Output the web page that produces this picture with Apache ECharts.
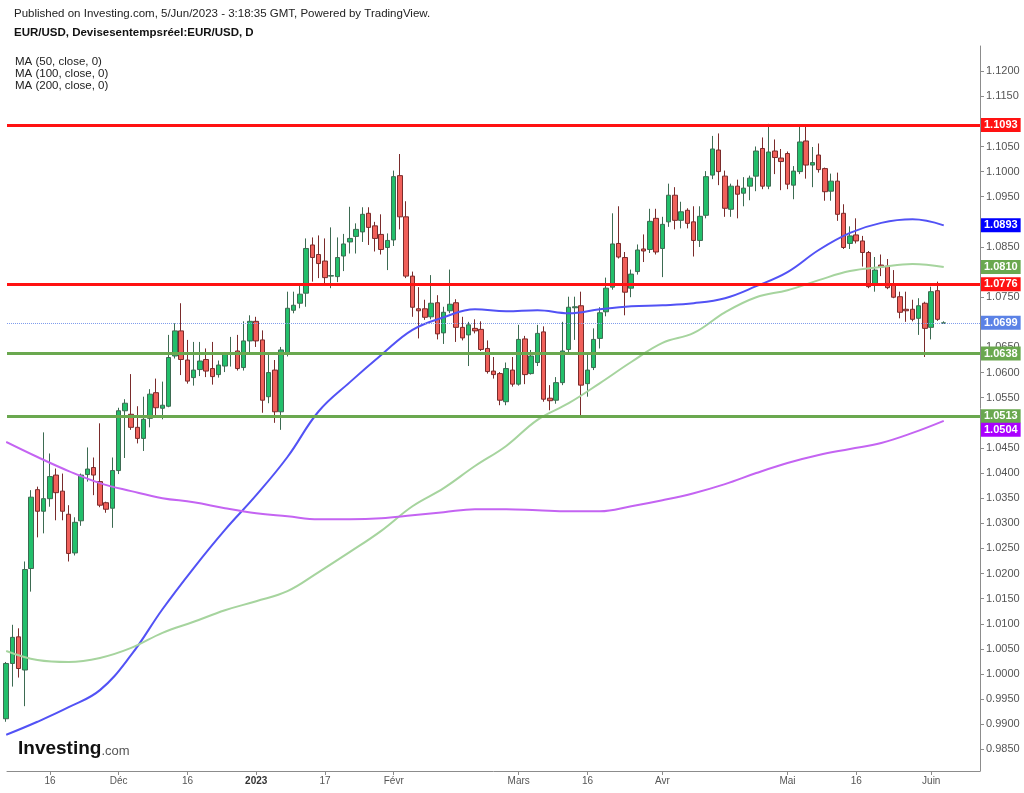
<!DOCTYPE html>
<html>
<head>
<meta charset="utf-8">
<title>EUR/USD</title>
<script src="https://cdn.jsdelivr.net/npm/echarts@6.0.0/dist/echarts.min.js"></script>
<style>
  html, body { margin: 0; padding: 0; background: #fff; }
  #chart { width: 1024px; height: 793px; }
</style>
</head>
<body>
<div id="chart"></div>
<script>
// séances quotidiennes EUR/USD, 7 nov. 2022 -> 5 juin 2023
var dates = [
  '2022-11-07','2022-11-08','2022-11-09','2022-11-10','2022-11-11','2022-11-14','2022-11-15','2022-11-16','2022-11-17','2022-11-18',
  '2022-11-21','2022-11-22','2022-11-23','2022-11-24','2022-11-25','2022-11-28','2022-11-29','2022-11-30','2022-12-01','2022-12-02',
  '2022-12-05','2022-12-06','2022-12-07','2022-12-08','2022-12-09','2022-12-12','2022-12-13','2022-12-14','2022-12-15','2022-12-16',
  '2022-12-19','2022-12-20','2022-12-21','2022-12-22','2022-12-23','2022-12-26','2022-12-27','2022-12-28','2022-12-29','2022-12-30',
  '2023-01-02','2023-01-03','2023-01-04','2023-01-05','2023-01-06','2023-01-09','2023-01-10','2023-01-11','2023-01-12','2023-01-13',
  '2023-01-16','2023-01-17','2023-01-18','2023-01-19','2023-01-20','2023-01-23','2023-01-24','2023-01-25','2023-01-26','2023-01-27',
  '2023-01-30','2023-01-31','2023-02-01','2023-02-02','2023-02-03','2023-02-06','2023-02-07','2023-02-08','2023-02-09','2023-02-10',
  '2023-02-13','2023-02-14','2023-02-15','2023-02-16','2023-02-17','2023-02-20','2023-02-21','2023-02-22','2023-02-23','2023-02-24',
  '2023-02-27','2023-02-28','2023-03-01','2023-03-02','2023-03-03','2023-03-06','2023-03-07','2023-03-08','2023-03-09','2023-03-10',
  '2023-03-13','2023-03-14','2023-03-15','2023-03-16','2023-03-17','2023-03-20','2023-03-21','2023-03-22','2023-03-23','2023-03-24',
  '2023-03-27','2023-03-28','2023-03-29','2023-03-30','2023-03-31','2023-04-03','2023-04-04','2023-04-05','2023-04-06','2023-04-07',
  '2023-04-10','2023-04-11','2023-04-12','2023-04-13','2023-04-14','2023-04-17','2023-04-18','2023-04-19','2023-04-20','2023-04-21',
  '2023-04-24','2023-04-25','2023-04-26','2023-04-27','2023-04-28','2023-05-01','2023-05-02','2023-05-03','2023-05-04','2023-05-05',
  '2023-05-08','2023-05-09','2023-05-10','2023-05-11','2023-05-12','2023-05-15','2023-05-16','2023-05-17','2023-05-18','2023-05-19',
  '2023-05-22','2023-05-23','2023-05-24','2023-05-25','2023-05-26','2023-05-29','2023-05-30','2023-05-31','2023-06-01','2023-06-02',
  '2023-06-05'
];

var open = [
  0.9911, 1.0021, 1.0074, 1.0008, 1.0210, 1.0367, 1.0324, 1.0349, 1.0396, 1.0364,
  1.0318, 1.0241, 1.0305, 1.0397, 1.0411, 1.0383, 1.0341, 1.0330, 1.0405, 1.0524,
  1.0517, 1.0491, 1.0469, 1.0509, 1.0560, 1.0529, 1.0533, 1.0633, 1.0683, 1.0625,
  1.0590, 1.0606, 1.0626, 1.0608, 1.0596, 1.0613, 1.0637, 1.0643, 1.0610, 1.0663,
  1.0702, 1.0665, 1.0552, 1.0605, 1.0522, 1.0638, 1.0724, 1.0738, 1.0758, 1.0854,
  1.0835, 1.0822, 1.0792, 1.0791, 1.0832, 1.0860, 1.0871, 1.0880, 1.0917, 1.0892,
  1.0875, 1.0849, 1.0864, 1.0992, 1.0910, 1.0792, 1.0727, 1.0727, 1.0711, 1.0739,
  1.0679, 1.0723, 1.0739, 1.0690, 1.0675, 1.0688, 1.0686, 1.0648, 1.0603, 1.0598,
  1.0542, 1.0605, 1.0577, 1.0667, 1.0598, 1.0620, 1.0681, 1.0549, 1.0545, 1.0580,
  1.0646, 1.0729, 1.0733, 1.0578, 1.0610, 1.0668, 1.0721, 1.0770, 1.0857, 1.0829,
  1.0768, 1.0801, 1.0846, 1.0845, 1.0907, 1.0847, 1.0900, 1.0953, 1.0903, 1.0923,
  1.0900, 1.0863, 1.0913, 1.0993, 1.1043, 1.0991, 1.0925, 1.0971, 1.0957, 1.0971,
  1.0991, 1.1046, 1.0971, 1.1041, 1.1027, 1.1036, 1.0973, 1.1000, 1.1061, 1.1013,
  1.1033, 1.1006, 1.0961, 1.0981, 1.0917, 1.0857, 1.0874, 1.0862, 1.0839, 1.0774,
  1.0814, 1.0812, 1.0776, 1.0751, 1.0726, 1.0726, 1.0708, 1.0738, 1.0690, 1.0763,
  1.0698
];
var close = [
  1.0021, 1.0073, 1.0011, 1.0208, 1.0352, 1.0324, 1.0349, 1.0393, 1.0361, 1.0324,
  1.0240, 1.0302, 1.0396, 1.0408, 1.0396, 1.0336, 1.0328, 1.0405, 1.0524, 1.0539,
  1.0491, 1.0469, 1.0507, 1.0557, 1.0530, 1.0535, 1.0630, 1.0683, 1.0626, 1.0583,
  1.0605, 1.0623, 1.0603, 1.0592, 1.0615, 1.0637, 1.0639, 1.0608, 1.0663, 1.0702,
  1.0663, 1.0545, 1.0600, 1.0522, 1.0645, 1.0728, 1.0734, 1.0756, 1.0847, 1.0829,
  1.0817, 1.0789, 1.0793, 1.0829, 1.0856, 1.0867, 1.0885, 1.0915, 1.0889, 1.0867,
  1.0845, 1.0863, 1.0990, 1.0910, 1.0792, 1.0730, 1.0723, 1.0710, 1.0738, 1.0677,
  1.0720, 1.0736, 1.0690, 1.0669, 1.0695, 1.0683, 1.0646, 1.0602, 1.0596, 1.0545,
  1.0608, 1.0577, 1.0666, 1.0596, 1.0633, 1.0678, 1.0547, 1.0544, 1.0580, 1.0643,
  1.0730, 1.0731, 1.0575, 1.0605, 1.0666, 1.0719, 1.0768, 1.0856, 1.0830, 1.0760,
  1.0796, 1.0844, 1.0842, 1.0901, 1.0840, 1.0895, 1.0953, 1.0903, 1.0920, 1.0897,
  1.0863, 1.0911, 1.0990, 1.1045, 1.1000, 1.0927, 1.0971, 1.0955, 1.0967, 1.0987,
  1.1041, 1.0971, 1.1039, 1.1028, 1.1020, 1.0975, 1.1001, 1.1059, 1.1013, 1.1018,
  1.1004, 1.0960, 1.0981, 1.0915, 1.0849, 1.0872, 1.0862, 1.0839, 1.0771, 1.0804,
  1.0810, 1.0769, 1.0750, 1.0720, 1.0723, 1.0706, 1.0733, 1.0688, 1.0761, 1.0706,
  1.0699
];
var low = [
  0.9905, 0.9975, 0.9993, 0.9936, 1.0164, 1.0272, 1.0280, 1.0333, 1.0306, 1.0306,
  1.0224, 1.0236, 1.0295, 1.0383, 1.0356, 1.0332, 1.0321, 1.0291, 1.0398, 1.0430,
  1.0486, 1.0459, 1.0444, 1.0491, 1.0512, 1.0507, 1.0531, 1.0628, 1.0595, 1.0578,
  1.0574, 1.0593, 1.0591, 1.0576, 1.0590, 1.0601, 1.0612, 1.0604, 1.0604, 1.0638,
  1.0651, 1.0520, 1.0539, 1.0500, 1.0486, 1.0632, 1.0718, 1.0728, 1.0731, 1.0781,
  1.0788, 1.0777, 1.0768, 1.0780, 1.0802, 1.0837, 1.0837, 1.0860, 1.0854, 1.0841,
  1.0835, 1.0804, 1.0852, 1.0885, 1.0788, 1.0711, 1.0668, 1.0705, 1.0706, 1.0666,
  1.0657, 1.0718, 1.0661, 1.0664, 1.0613, 1.0678, 1.0643, 1.0598, 1.0588, 1.0535,
  1.0535, 1.0572, 1.0574, 1.0577, 1.0596, 1.0613, 1.0542, 1.0525, 1.0538, 1.0575,
  1.0641, 1.0665, 1.0515, 1.0552, 1.0605, 1.0648, 1.0712, 1.0765, 1.0827, 1.0714,
  1.0750, 1.0795, 1.0820, 1.0838, 1.0835, 1.0790, 1.0890, 1.0885, 1.0887, 1.0887,
  1.0831, 1.0850, 1.0907, 1.0985, 1.0973, 1.0910, 1.0910, 1.0907, 1.0931, 1.0943,
  1.0961, 1.0965, 1.0965, 1.0995, 1.0963, 1.0965, 1.0945, 1.0995, 1.0986, 1.0969,
  1.0998, 1.0942, 1.0942, 1.0902, 1.0846, 1.0846, 1.0857, 1.0811, 1.0768, 1.0761,
  1.0792, 1.0766, 1.0748, 1.0708, 1.0701, 1.0702, 1.0675, 1.0631, 1.0666, 1.0703,
  1.0697
];
var high = [
  1.0024, 1.0098, 1.0091, 1.0224, 1.0366, 1.0373, 1.0481, 1.0439, 1.0409, 1.0399,
  1.0336, 1.0312, 1.0399, 1.0451, 1.0431, 1.0499, 1.0343, 1.0431, 1.0530, 1.0547,
  1.0597, 1.0533, 1.0552, 1.0567, 1.0588, 1.0582, 1.0675, 1.0698, 1.0738, 1.0665,
  1.0661, 1.0661, 1.0648, 1.0661, 1.0624, 1.0641, 1.0671, 1.0675, 1.0702, 1.0714,
  1.0711, 1.0684, 1.0638, 1.0625, 1.0651, 1.0761, 1.0761, 1.0777, 1.0867, 1.0869,
  1.0873, 1.0867, 1.0889, 1.0869, 1.0876, 1.0930, 1.0897, 1.0929, 1.0929, 1.0900,
  1.0915, 1.0877, 1.1002, 1.1035, 1.0941, 1.0801, 1.0770, 1.0745, 1.0794, 1.0754,
  1.0731, 1.0805, 1.0746, 1.0711, 1.0701, 1.0706, 1.0702, 1.0664, 1.0631, 1.0601,
  1.0620, 1.0631, 1.0695, 1.0673, 1.0645, 1.0695, 1.0692, 1.0575, 1.0591, 1.0701,
  1.0751, 1.0751, 1.0761, 1.0638, 1.0688, 1.0730, 1.0789, 1.0917, 1.0931, 1.0840,
  1.0805, 1.0855, 1.0875, 1.0926, 1.0926, 1.0910, 1.0976, 1.0969, 1.0940, 1.0927,
  1.0931, 1.0931, 1.1001, 1.1071, 1.1076, 1.1002, 1.0976, 1.0984, 1.0989, 1.0992,
  1.1050, 1.1068, 1.1095, 1.1064, 1.1045, 1.1040, 1.1011, 1.1093, 1.1093, 1.1049,
  1.1056, 1.1008, 1.0996, 1.0998, 1.0935, 1.0891, 1.0907, 1.0872, 1.0842, 1.0830,
  1.0835, 1.0826, 1.0804, 1.0761, 1.0761, 1.0745, 1.0748, 1.0741, 1.0771, 1.0781,
  1.0702
];

// moyennes mobiles, une valeur toutes les 5 séances
var maIdx = [0, 5, 10, 15, 20, 25, 30, 35, 40, 45, 50, 55, 60, 65, 70, 75, 80, 85, 90, 95,
  100, 105, 110, 115, 120, 125, 130, 135, 140, 145, 150];
var ma50 = [0.9879, 0.9905, 0.9934, 0.9968, 1.0038, 1.0129, 1.0211, 1.0287, 1.0356, 1.0432,
  1.0523, 1.0581, 1.0635, 1.0685, 1.0710, 1.0726, 1.0722, 1.0724, 1.0718, 1.0726,
  1.0732, 1.0734, 1.0738, 1.0748, 1.0772, 1.0800, 1.0844, 1.0878, 1.0898, 1.0905, 1.0893];
var ma100 = [1.0046, 1.0028, 1.0024, 1.0032, 1.0052, 1.0082, 1.0104, 1.0127, 1.0145, 1.0165,
  1.0203, 1.0243, 1.0285, 1.0334, 1.0370, 1.0414, 1.0454, 1.0506, 1.0539, 1.0579,
  1.0621, 1.0659, 1.0679, 1.0720, 1.0750, 1.0764, 1.0784, 1.0802, 1.0810, 1.0816, 1.0810];
var ma200 = [1.0462, 1.0432, 1.0404, 1.0380, 1.0364, 1.0350, 1.0342, 1.0330, 1.0320, 1.0314,
  1.0308, 1.0308, 1.0310, 1.0316, 1.0322, 1.0328, 1.0328, 1.0326, 1.0324, 1.0324,
  1.0334, 1.0346, 1.0360, 1.0378, 1.0400, 1.0420, 1.0436, 1.0448, 1.0460, 1.0480, 1.0504];

// supports / résistances tracés à la main
var resistances = [1.1093, 1.0776];
var supports = [1.0638, 1.0513];
var lastPrice = 1.0699;

// graduations
var xLabelIdx = [7, 18, 29, 40, 51, 62, 82, 93, 105, 125, 136, 148];
var xLabels = ['16', 'Déc', '16', '2023', '17', 'Févr', 'Mars', '16', 'Avr', 'Mai', '16', 'Juin'];
var yTicks = [0.985, 0.990, 0.995, 1.000, 1.005, 1.010, 1.015, 1.020, 1.025, 1.030,
  1.035, 1.040, 1.045, 1.050, 1.055, 1.060, 1.065, 1.070, 1.075, 1.080,
  1.085, 1.090, 1.095, 1.100, 1.105, 1.110, 1.115, 1.120];

var FONT = 'Liberation Sans, Arial, sans-serif';
var RED = '#ff1212';
var GREEN = '#6aa84f';
var HIDDEN = { color: 'rgba(0,0,0,0)', width: 1 };

var candles = dates.map(function (d, i) {
    return [i, open[i], close[i], low[i], high[i]];
});

function maPoints(values) {
    return maIdx.map(function (x, k) { return [x, values[k]]; });
}

// étiquette de prix collée à l'axe de droite
function priceTag(value, bg, line, extra) {
    var item = {
        yAxis: value,
        lineStyle: line || HIDDEN,
        label: { backgroundColor: bg, formatter: value.toFixed(4) }
    };
    if (extra) {
        Object.assign(item.label, extra);
    }
    return item;
}

var tags = [];
resistances.forEach(function (v) {
    tags.push(priceTag(v, RED, { color: RED, width: 3, type: 'solid' }));
});
supports.forEach(function (v) {
    tags.push(priceTag(v, GREEN, { color: GREEN, width: 3, type: 'solid' }));
});
tags.push(priceTag(lastPrice, '#5b82e6', { color: '#7f9cec', width: 1, type: 'dotted' }));
tags.push(priceTag(ma50[ma50.length - 1], '#0000ff'));
tags.push(priceTag(ma100[ma100.length - 1], GREEN));
tags.push(priceTag(ma200[ma200.length - 1], '#aa00ff', null, { offset: [0, 9] }));

// les graduations masquées par une étiquette de prix ne sont pas écrites
var tagValues = tags.map(function (t) { return t.yAxis; });
function coveredByTag(v) {
    return tagValues.some(function (t) { return Math.abs(t - v) < 0.0011; });
}

var option = {
    animation: false,
    backgroundColor: '#ffffff',
    grid: { left: 7, right: 44, top: 46, bottom: 22, containLabel: false },
    xAxis: {
        type: 'value',
        min: 0.13,
        max: 155.8,
        splitLine: { show: false },
        axisLine: { onZero: false, lineStyle: { color: '#8c8c8c' } },
        axisTick: { customValues: xLabelIdx, length: 4, lineStyle: { color: '#8c8c8c' } },
        axisLabel: {
            customValues: xLabelIdx,
            color: '#555',
            fontSize: 10,
            fontFamily: 'Liberation Sans Narrow, ' + FONT,
            margin: 5,
            formatter: function (v) {
                var k = xLabelIdx.indexOf(Math.round(v));
                var t = k < 0 ? '' : xLabels[k];
                return t === '2023' ? '{b|2023}' : t;
            },
            rich: { b: { fontWeight: 'bold', fontSize: 10, color: '#333', fontFamily: FONT } }
        }
    },
    yAxis: {
        type: 'value',
        position: 'right',
        min: 0.9807,
        max: 1.1250,
        splitLine: { show: false },
        axisLine: { show: true, onZero: false, lineStyle: { color: '#8c8c8c' } },
        axisTick: { show: true, customValues: yTicks, length: 4, lineStyle: { color: '#8c8c8c' } },
        axisLabel: {
            customValues: yTicks,
            color: '#555',
            fontSize: 11,
            fontFamily: FONT,
            margin: 6,
            formatter: function (v) { return coveredByTag(v) ? '' : v.toFixed(4); }
        }
    },
    series: [
        {
            name: 'EUR/USD',
            type: 'candlestick',
            encode: { x: 0, y: [1, 2, 3, 4] },
            barWidth: 5,
            clip: false,
            itemStyle: {
                color: '#22bf6b',
                color0: '#f0605a',
                borderColor: '#3d6b52',
                borderColor0: '#7a2b2b',
                borderWidth: 1
            },
            data: candles,
            markLine: {
                silent: true,
                precision: 4,
                symbol: ['none', 'none'],
                label: {
                    show: true,
                    position: 'end',
                    distance: 1,
                    color: '#fff',
                    fontWeight: 'bold',
                    fontSize: 11,
                    fontFamily: FONT,
                    padding: [2, 3, 1, 3]
                },
                data: tags
            }
        },
        {
            name: 'MA (50, close, 0)',
            type: 'line',
            data: maPoints(ma50),
            smooth: 0.4,
            showSymbol: false,
            lineStyle: { color: '#5252f5', width: 2 }
        },
        {
            name: 'MA (100, close, 0)',
            type: 'line',
            data: maPoints(ma100),
            smooth: 0.4,
            showSymbol: false,
            lineStyle: { color: '#a6d49e', width: 2 }
        },
        {
            name: 'MA (200, close, 0)',
            type: 'line',
            data: maPoints(ma200),
            smooth: 0.4,
            showSymbol: false,
            lineStyle: { color: '#c464f2', width: 2 }
        }
    ],
    graphic: [
        {
            type: 'text', left: 14, top: 8,
            style: {
                text: 'Published on Investing.com, 5/Jun/2023 - 3:18:35 GMT, Powered by TradingView.',
                font: '11.5px ' + FONT, fill: '#222'
            }
        },
        {
            type: 'text', left: 14, top: 27,
            style: {
                text: 'EUR/USD, Devisesentempsréel:EUR/USD, D',
                font: 'bold 11.5px ' + FONT, fill: '#111'
            }
        },
        {
            type: 'text', left: 15, top: 56,
            style: {
                text: 'MA (50, close, 0)\nMA (100, close, 0)\nMA (200, close, 0)',
                font: '11.5px ' + FONT, fill: '#222', lineHeight: 12
            }
        },
        {
            type: 'text', left: 18, top: 739,
            style: {
                text: '{a|Investing}{b|.com}',
                rich: {
                    a: { font: 'bold 19px ' + FONT, fill: '#111', letterSpacing: -0.6 },
                    b: { font: '13px ' + FONT, fill: '#555', padding: [5, 0, 0, 0] }
                }
            }
        }
    ]
};

var chart = echarts.init(document.getElementById('chart'));
chart.setOption(option, true);
</script>
</body>
</html>
